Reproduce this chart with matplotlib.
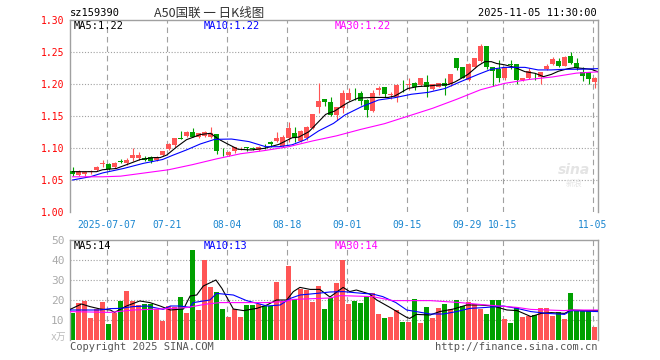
import numpy as np
import matplotlib
matplotlib.use('Agg')
import matplotlib.pyplot as plt

plt.rcParams['font.family'] = ['DejaVu Sans Mono', 'Noto Sans CJK SC']

# ---------------------------------------------------------------------------
# Datos (88 sesiones, 2025-06-27 .. 2025-11-05)
# ---------------------------------------------------------------------------
opens = [1.064, 1.058, 1.060, 1.062, 1.066, 1.075, 1.075, 1.071, 1.079, 1.076,
         1.084, 1.084, 1.085, 1.0855, 1.081, 1.089, 1.098, 1.105, 1.116, 1.119,
         1.1255, 1.117, 1.119, 1.117, 1.1214, 1.094, 1.089, 1.095, 1.0995, 1.1016,
         1.0995, 1.097, 1.1005, 1.110, 1.1109, 1.103, 1.115, 1.1234, 1.111, 1.115,
         1.1308, 1.1645, 1.176, 1.1724, 1.1516, 1.163, 1.175, 1.1858, 1.1865, 1.175,
         1.158, 1.190, 1.1953, 1.1823, 1.1802, 1.1955, 1.1985, 1.202, 1.1984, 1.2026,
         1.192, 1.196, 1.201, 1.1995, 1.240, 1.226, 1.2063, 1.2261, 1.2359, 1.2594,
         1.226, 1.224, 1.209, 1.2312, 1.2307, 1.2057, 1.209, 1.2128, 1.2115, 1.2234,
         1.2313, 1.2365, 1.2287, 1.2443, 1.2323, 1.218, 1.218, 1.2026]
highs = [1.071, 1.065, 1.064, 1.066, 1.072, 1.082, 1.076, 1.078, 1.083, 1.084,
         1.0995, 1.093, 1.087, 1.087, 1.087, 1.096, 1.108, 1.1155, 1.1266, 1.126,
         1.131, 1.124, 1.126, 1.1335, 1.122, 1.0995, 1.0955, 1.102, 1.101, 1.102,
         1.102, 1.1025, 1.107, 1.111, 1.1255, 1.120, 1.141, 1.133, 1.128, 1.135,
         1.1526, 1.2016, 1.177, 1.179, 1.1645, 1.1906, 1.1932, 1.193, 1.189, 1.176,
         1.190, 1.1966, 1.196, 1.188, 1.1995, 1.2063, 1.2094, 1.203, 1.210, 1.214,
         1.200, 1.2016, 1.2099, 1.2151, 1.241, 1.227, 1.2323, 1.2401, 1.2625, 1.2594,
         1.227, 1.237, 1.227, 1.237, 1.231, 1.2095, 1.2245, 1.2167, 1.219, 1.2313,
         1.2422, 1.240, 1.243, 1.2495, 1.2401, 1.227, 1.219, 1.2115]
lows = [1.056, 1.056, 1.057, 1.060, 1.064, 1.071, 1.066, 1.069, 1.076, 1.074,
        1.080, 1.082, 1.080, 1.077, 1.080, 1.087, 1.097, 1.102, 1.114, 1.117,
        1.117, 1.115, 1.117, 1.115, 1.0906, 1.087, 1.087, 1.092, 1.097, 1.095,
        1.097, 1.096, 1.098, 1.101, 1.109, 1.101, 1.110, 1.110, 1.109, 1.113,
        1.129, 1.154, 1.166, 1.1505, 1.144, 1.155, 1.173, 1.175, 1.167, 1.149,
        1.156, 1.183, 1.179, 1.177, 1.172, 1.187, 1.191, 1.191, 1.197, 1.180,
        1.190, 1.195, 1.183, 1.1974, 1.222, 1.209, 1.205, 1.225, 1.235, 1.224,
        1.197, 1.2026, 1.206, 1.224, 1.200, 1.205, 1.208, 1.2063, 1.200, 1.222,
        1.229, 1.226, 1.228, 1.232, 1.222, 1.2047, 1.200, 1.194]
closes = [1.059, 1.064, 1.062, 1.064, 1.071, 1.076, 1.067, 1.077, 1.078, 1.082,
          1.089, 1.089, 1.081, 1.080, 1.086, 1.0958, 1.107, 1.115, 1.1145, 1.1255,
          1.1177, 1.123, 1.1245, 1.123, 1.0953, 1.0932, 1.0943, 1.101, 1.1005, 1.0995,
          1.099, 1.1016, 1.0995, 1.1068, 1.1161, 1.1177, 1.1318, 1.115, 1.1266, 1.1333,
          1.1526, 1.1734, 1.1714, 1.1516, 1.1645, 1.1865, 1.1865, 1.1852, 1.174, 1.1594,
          1.1865, 1.194, 1.184, 1.1844, 1.1985, 1.1948, 1.1992, 1.195, 1.209, 1.195,
          1.1995, 1.201, 1.197, 1.2151, 1.2255, 1.209, 1.2307, 1.2401, 1.2594, 1.2271,
          1.2203, 1.209, 1.226, 1.2302, 1.2063, 1.2089, 1.220, 1.2122, 1.218, 1.2281,
          1.2385, 1.2287, 1.242, 1.2323, 1.2255, 1.2125, 1.2073, 1.2089]

volumes = [13.7, 18.7, 19.7, 11.2, 15.5, 19.2, 8.0, 13.7, 19.7, 24.5,
           19.5, 17.5, 18.0, 18.0, 15.5, 9.7, 17.0, 16.3, 21.7, 13.7,
           45.0, 15.0, 40.0, 26.7, 24.2, 15.5, 11.7, 15.5, 11.7, 17.5,
           17.5, 18.0, 17.0, 17.0, 29.2, 19.5, 37.2, 20.3, 25.5, 25.0,
           19.2, 27.0, 15.5, 20.8, 28.3, 40.0, 18.0, 19.5, 18.7, 22.2,
           23.3, 13.0, 11.2, 11.7, 15.0, 9.2, 9.2, 20.5, 8.7, 16.7,
           11.2, 16.2, 18.0, 15.3, 20.0, 17.0, 19.2, 18.0, 15.5, 13.0,
           20.0, 20.0, 10.5, 8.7, 16.3, 11.7, 12.0, 12.5, 16.2, 16.2,
           12.2, 13.8, 10.3, 23.3, 14.7, 14.7, 14.7, 6.7]

ma5_x = [0, 4, 5, 7.3, 9.6, 11.3, 13.5, 14.6, 15.7, 17.4, 19, 21.3, 23, 24.3,
         25.7, 27.6, 29.8, 32, 34.4, 36.6, 37.7, 39.4, 41, 42.2, 43.7, 44.8,
         45.9, 47.6, 50, 52.6, 53.7, 54.5, 55.9, 57.6, 59.3, 61, 62.6, 63.7,
         65, 65.9, 67.6, 68.7, 69.8, 70.7, 72, 73.7, 75.4, 77.1, 78.5, 79.8,
         81, 82.6, 83.7, 85.4, 86.5, 87.6]
ma5_y = [1.063, 1.063, 1.066, 1.068, 1.076, 1.082, 1.085, 1.085, 1.089, 1.102,
         1.113, 1.121, 1.123, 1.114, 1.107, 1.098, 1.097, 1.0995, 1.1057, 1.116,
         1.117, 1.1255, 1.141, 1.1526, 1.1578, 1.1646, 1.171, 1.178, 1.179, 1.179,
         1.1812, 1.1854, 1.193, 1.196, 1.197, 1.1984, 1.199, 1.203, 1.2099, 1.215,
         1.2286, 1.2349, 1.2349, 1.232, 1.230, 1.226, 1.2193, 1.2167, 1.2115, 1.215,
         1.220, 1.224, 1.2255, 1.224, 1.2229, 1.219]
ma10_x = [0, 3, 5, 8.5, 11.8, 15, 16.8, 19, 21.3, 23.7, 26.5, 29.4, 32.2, 34.4,
          36.6, 38.8, 41, 43.5, 45.4, 48.2, 51, 53.7, 56.5, 59.3, 62.1, 64.6,
          67.6, 69.8, 72, 75.4, 77.6, 79.8, 82, 84.3, 87.6]
ma10_y = [1.050, 1.0552, 1.061, 1.068, 1.076, 1.082, 1.089, 1.097, 1.1063, 1.1135,
          1.114, 1.110, 1.102, 1.102, 1.105, 1.113, 1.1266, 1.1385, 1.1516, 1.1646,
          1.175, 1.1786, 1.184, 1.187, 1.193, 1.2033, 1.215, 1.223, 1.226, 1.226,
          1.222, 1.222, 1.223, 1.223, 1.224]
ma30_x = [0, 5, 8, 12, 16, 20, 24, 28, 32, 36, 40, 44, 48, 52, 56, 60, 64, 68,
          72, 76, 80, 84, 87.6]
ma30_y = [1.055, 1.055, 1.056, 1.061, 1.066, 1.074, 1.083, 1.091, 1.096, 1.102,
          1.111, 1.119, 1.129, 1.138, 1.150, 1.162, 1.176, 1.191, 1.201, 1.207,
          1.211, 1.217, 1.219]

# Medias moviles de volumen
vma5_x = [-0.4, 1.5, 2.9, 4.6, 6.3, 7, 9, 11.2, 12.9, 14.6, 16.3, 18.5, 19.6,
          20.7, 21.8, 23.9, 24.9, 26.8, 28.5, 30.7, 32.4, 34, 35.7, 36.8, 37.9,
          39.6, 41.2, 42.9, 45.1, 46.2, 47.3, 49.5, 50.7, 52.9, 55.7, 56.2, 57.3,
          59.6, 61.2, 63.5, 65.7, 67.9, 70.1, 72.4, 74.1, 76.4, 78.1, 79.8, 82,
          83.1, 85.3, 87.6]
vma5_y = [15.3, 18.0, 16.7, 15.5, 15.0, 13.8, 17.0, 19.5, 18.7, 17.0, 15.0, 15.5,
          22.0, 22.5, 27.0, 30.0, 25.8, 15.5, 14.7, 15.8, 17.5, 20.0, 20.0, 24.2,
          26.3, 25.3, 25.3, 21.5, 26.3, 24.2, 25.0, 23.0, 20.0, 16.3, 11.3, 10.8,
          12.8, 12.5, 14.2, 15.5, 17.5, 17.5, 17.0, 15.0, 14.7, 11.7, 13.3, 13.7,
          13.3, 15.0, 14.7, 14.7]
vma10_x = [-0.4, 2.4, 4.6, 6.3, 7.9, 10.1, 12.4, 15.1, 16.3, 17.9, 19.6, 20.1,
           22.9, 24, 26.8, 29, 31.2, 32.4, 34.6, 36.3, 37.9, 40.7, 42.9, 45.1,
           48.4, 50, 51.7, 53.9, 55.7, 57.3, 59.6, 61.8, 64, 66.2, 69, 71.8, 74.1,
           76.4, 79.2, 82, 83.1, 87.6]
vma10_y = [15.0, 15.0, 15.0, 15.7, 15.8, 16.7, 17.0, 15.3, 17.0, 17.0, 16.3, 18.7,
           20.0, 23.3, 22.5, 19.7, 18.0, 17.0, 17.5, 20.8, 22.5, 23.3, 24.0, 24.2,
           23.3, 23.0, 21.7, 18.7, 15.0, 14.2, 13.0, 13.0, 14.2, 15.8, 16.3, 17.0,
           15.8, 14.2, 13.3, 12.8, 14.7, 14.2]
vma30_x = [-0.4, 6.3, 10.1, 14.6, 19, 22.4, 24.6, 32.4, 35.2, 36.8, 42.9, 44.6,
           50, 53.4, 59.6, 64.6, 69, 74.1, 76.4, 82, 83.1, 87.6]
vma30_y = [14.2, 13.8, 15.0, 15.5, 16.2, 18.0, 18.7, 18.7, 19.2, 20.3, 21.0, 22.2,
           21.7, 19.7, 19.7, 18.7, 17.5, 16.3, 15.3, 14.7, 15.0, 15.0]

tick_idx = [6, 16, 26, 36, 46, 56, 66, 72, 87]
tick_lab = ['2025-07-07', '07-21', '08-04', '08-18', '09-01', '09-15',
            '09-29', '10-15', '11-05']
price_ticks = [1.00, 1.05, 1.10, 1.15, 1.20, 1.25, 1.30]
vol_ticks = [10, 20, 30, 40, 50]

# ---------------------------------------------------------------------------
# Estilos
# ---------------------------------------------------------------------------
ROJO = '#ff5555'
VERDE = '#00a000'
GRIS = '#a0a0a0'
AZUL_TXT = '#1a86d0'
FS = 7
LW = 0.8   # ~1 px

opens = np.array(opens); closes = np.array(closes)
highs = np.array(highs); lows = np.array(lows)
x = np.arange(len(opens))
sube = closes >= opens
colores = np.where(sube, ROJO, VERDE)

fig = plt.figure(figsize=(6.6, 3.6), dpi=100)
ax = fig.add_axes([70 / 660, 1 - 212 / 360, 528 / 660, 192 / 360])
axv = fig.add_axes([70 / 660, 1 - 340 / 360, 528 / 660, 100 / 360])

xlim = (-0.42, 87.58)
gx = np.array(tick_idx) - 0.3

# ---- marco y grilla ----
for a in (ax, axv):
    a.set_xlim(*xlim)
    for s in ('top', 'left', 'right'):
        a.spines[s].set_color(GRIS)
        a.spines[s].set_linewidth(1.0)
    a.spines['bottom'].set_visible(False)
    a.set_xticks([])
    for gxi in gx:
        a.axvline(gxi, color=GRIS, lw=LW, dashes=(5, 3.5), zorder=0)

# ---- panel de precio ----
ax.set_ylim(1.00, 1.30)
for yv in price_ticks[1:-1]:
    ax.axhline(yv, color=GRIS, lw=LW, dashes=(1, 1.6), zorder=0)
ax.set_yticks(price_ticks)
ax.set_yticklabels([f'{v:.2f}' for v in price_ticks])
ax.tick_params(axis='y', length=0, pad=4, labelsize=FS, labelcolor='#ff0000')

ax.vlines(x, lows, highs, colors=colores, lw=LW, zorder=2)
cuerpo = np.maximum(np.abs(closes - opens), 0.0008)
ax.bar(x, cuerpo, bottom=np.minimum(opens, closes), width=0.85,
       color=colores, lw=0, zorder=3)

ax.plot(ma5_x, ma5_y, color='black', lw=LW, zorder=4)
ax.plot(ma10_x, ma10_y, color='#0000ff', lw=LW, zorder=4)
ax.plot(ma30_x, ma30_y, color='#ff00ff', lw=LW, zorder=4)

for xi, lab in zip(gx, tick_lab):
    ax.text(xi, -0.04, lab, transform=ax.get_xaxis_transform(), ha='center',
            va='top', fontsize=FS, color=AZUL_TXT)

# marca de agua
ax.text(0.955, 0.22, 'sina', transform=ax.transAxes, ha='center', va='center',
        fontsize=10, color='#e4e4e4', fontweight='bold', style='italic',
        family='DejaVu Sans', zorder=1)
ax.text(0.955, 0.15, '新浪', transform=ax.transAxes, ha='center', va='center',
        fontsize=6, color='#e4e4e4', family=['Noto Sans CJK SC'], zorder=1)

# ---- panel de volumen ----
axv.set_ylim(0, 50)
for yv in vol_ticks[:-1]:
    axv.axhline(yv, color=GRIS, lw=LW, dashes=(1, 1.6), zorder=0)
axv.set_yticks(vol_ticks)
axv.set_yticklabels([str(v) for v in vol_ticks])
axv.tick_params(axis='y', length=0, pad=4, labelsize=FS + 1, labelcolor='#aaaaaa')
axv.bar(x, volumes, width=0.85, color=colores, lw=0, zorder=2)
axv.plot(vma5_x, vma5_y, color='black', lw=LW, zorder=4)
axv.plot(vma10_x, vma10_y, color='#0000ff', lw=LW, zorder=4)
axv.plot(vma30_x, vma30_y, color='#ff00ff', lw=LW, zorder=4)

# ---- textos ----
fig.text(70 / 660, 1 - 13 / 360, 'sz159390', fontsize=FS + 0.5, va='center',
         ha='left', color='black')
fig.text(209 / 660, 1 - 13 / 360, 'A50国联 一 日K线图', fontsize=9,
         va='center', ha='center', color='#333333',
         family=['Noto Sans CJK SC', 'DejaVu Sans'])
fig.text(597 / 660, 1 - 13 / 360, '2025-11-05 11:30:00', fontsize=FS + 0.5,
         va='center', ha='right', color='black')

fig.text(74 / 660, 1 - 26 / 360, 'MA5:1.22', fontsize=FS + 0.5, va='center', color='black')
fig.text(204 / 660, 1 - 26 / 360, 'MA10:1.22', fontsize=FS + 0.5, va='center', color='#0000ff')
fig.text(335 / 660, 1 - 26 / 360, 'MA30:1.22', fontsize=FS + 0.5, va='center', color='#ff00ff')

fig.text(74 / 660, 1 - 246 / 360, 'MA5:14', fontsize=FS + 0.5, va='center', color='black')
fig.text(204 / 660, 1 - 246 / 360, 'MA10:13', fontsize=FS + 0.5, va='center', color='#0000ff')
fig.text(335 / 660, 1 - 246 / 360, 'MA30:14', fontsize=FS + 0.5, va='center', color='#ff00ff')

fig.text(66 / 660, 1 - 337 / 360, 'x万', fontsize=FS, va='center', ha='right',
         color='#bbbbbb', family=['DejaVu Sans Mono', 'Noto Sans CJK SC'])
fig.text(70 / 660, 1 - 347 / 360, 'Copyright 2025 SINA.COM', fontsize=FS + 0.5,
         va='center', ha='left', color='#555555')
fig.text(597 / 660, 1 - 347 / 360, 'http://finance.sina.com.cn', fontsize=FS + 0.5,
         va='center', ha='right', color='#555555')

fig.savefig('out.png', dpi=100)
